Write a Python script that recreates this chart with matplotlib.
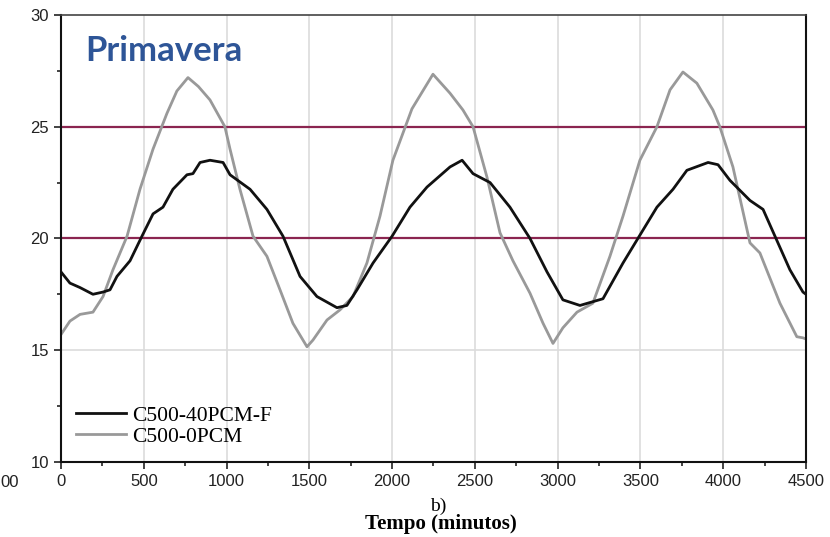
import numpy as np
import matplotlib.pyplot as plt
from matplotlib.ticker import MultipleLocator

# C500-40PCM-F (black)
t_pcm = [0, 54, 115, 193, 254, 296, 338, 417, 489, 556, 616, 676, 761, 797, 840, 900,
         979, 1021, 1142, 1244, 1341, 1444, 1546, 1667, 1727, 1788, 1885, 2000, 2108,
         2211, 2350, 2423, 2489, 2592, 2712, 2833, 2936, 3032, 3135, 3274, 3395, 3485,
         3600, 3697, 3781, 3909, 3969, 4041, 4162, 4241, 4325, 4403, 4482, 4500]
y_pcm = [18.5, 18.0, 17.8, 17.5, 17.6, 17.7, 18.3, 19.0, 20.1, 21.1, 21.4, 22.2, 22.85,
         22.9, 23.4, 23.5, 23.4, 22.85, 22.2, 21.3, 20.1, 18.3, 17.4, 16.9, 17.0, 17.7,
         18.9, 20.1, 21.4, 22.3, 23.2, 23.5, 22.9, 22.5, 21.4, 20.0, 18.5, 17.25, 17.0,
         17.3, 18.9, 20.0, 21.4, 22.2, 23.05, 23.4, 23.3, 22.6, 21.7, 21.3, 19.9, 18.6,
         17.6, 17.5]

# C500-0PCM (gray)
t_ref = [0, 54, 115, 193, 254, 314, 399, 477, 556, 640, 700, 767, 830, 900, 990, 1021,
         1081, 1160, 1244, 1323, 1401, 1486, 1522, 1607, 1685, 1764, 1848, 1927, 2005,
         2120, 2247, 2350, 2428, 2489, 2573, 2652, 2730, 2833, 2912, 2972, 3032, 3117,
         3213, 3316, 3395, 3497, 3600, 3679, 3757, 3841, 3938, 3980, 4059, 4162, 4222,
         4343, 4445, 4482, 4500]
y_ref = [15.7, 16.3, 16.6, 16.7, 17.4, 18.6, 20.1, 22.2, 24.0, 25.6, 26.6, 27.2, 26.8,
         26.2, 25.0, 24.0, 22.2, 20.1, 19.2, 17.7, 16.2, 15.15, 15.45, 16.35, 16.8, 17.4,
         18.9, 21.0, 23.5, 25.8, 27.35, 26.5, 25.75, 25.0, 22.75, 20.25, 19.0, 17.55,
         16.2, 15.3, 16.0, 16.7, 17.1, 19.2, 21.0, 23.5, 25.0, 26.65, 27.45, 26.95, 25.75,
         25.0, 23.2, 19.8, 19.35, 17.1, 15.6, 15.55, 15.5]

limits = [20, 25]

fig = plt.figure(figsize=(8.3, 5.37), dpi=100)
ax = fig.add_axes([0.0735, 0.14, 0.8975, 0.832])

for x in range(500, 4500, 500):
    ax.axvline(x, color='#dcdcdc', lw=1.2, zorder=0)
ax.axhline(15, color='#dcdcdc', lw=1.2, zorder=0)
for lim in limits:
    ax.axhline(lim, color='#8b2550', lw=1.6, zorder=1)

ax.plot(t_pcm, y_pcm, color='#111111', lw=2.0, label='C500-40PCM-F', zorder=3)
ax.plot(t_ref, y_ref, color='#999999', lw=2.0, label='C500-0PCM', zorder=2)

ax.set_xlim(0, 4500)
ax.set_ylim(10, 30)
ax.xaxis.set_major_locator(MultipleLocator(500))
ax.xaxis.set_minor_locator(MultipleLocator(250))
ax.yaxis.set_major_locator(MultipleLocator(5))
ax.yaxis.set_minor_locator(MultipleLocator(2.5))
ax.tick_params(which='both', direction='out', colors='#222222', labelsize=12, width=1.2)
ax.tick_params(which='major', length=5)
ax.tick_params(which='minor', length=3)
for lbl in ax.get_xticklabels() + ax.get_yticklabels():
    lbl.set_family('Liberation Sans')
for side in ['left', 'bottom', 'right']:
    ax.spines[side].set_color('#111111')
    ax.spines[side].set_linewidth(1.5)
ax.spines['top'].set_color('#444444')
ax.spines['top'].set_linewidth(1.2)

leg = ax.legend(loc='lower left', bbox_to_anchor=(0.0, 0.0), frameon=False,
                prop={'family': 'Liberation Serif', 'size': 15.5}, handlelength=2.3,
                handletextpad=0.3, labelspacing=0.05, borderaxespad=0.3)

ax.text(0.032, 0.92, 'Primavera', transform=ax.transAxes, fontsize=25, fontweight='bold',
        color='#2e5597', family='Lato', va='center')

fig.text(0.528, 0.058, 'b)', family='Liberation Serif', fontsize=14, ha='center', va='center')
fig.text(0.531, 0.024, 'Tempo (minutos)', family='Liberation Serif', fontsize=15,
         fontweight='bold', ha='center', va='center')
fig.text(0.0, 0.1024, '00', family='Liberation Sans', fontsize=12, color='#222222',
         ha='left', va='center')

fig.savefig('out.png', dpi=100)
